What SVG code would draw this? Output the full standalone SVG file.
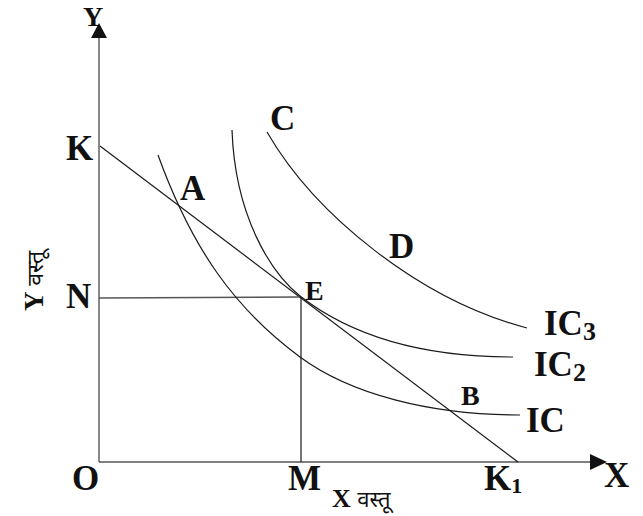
<svg xmlns="http://www.w3.org/2000/svg" width="643" height="516" viewBox="0 0 643 516">
<style>
.ax{stroke:#555;stroke-width:1.4;fill:none}
.ln{stroke:#1a1a1a;stroke-width:1.2;fill:none}
.t{font-family:"Liberation Serif","Times New Roman",serif;font-weight:bold;fill:#111}
.big{font-size:35px}
.mid{font-size:28px}
.dev{font-family:"Noto Sans Devanagari","Lohit Devanagari","Noto Sans","Liberation Serif",sans-serif;font-weight:normal;fill:#111}
</style>
<rect width="643" height="516" fill="#fff"/>
<g id="axes">
<line class="ax" x1="99" y1="462" x2="99" y2="37"/>
<line class="ax" x1="99" y1="462" x2="591" y2="462"/>
<polygon points="99,23 91,38 107,38" fill="#111"/>
<polygon points="607,462 590,454 590,470" fill="#111"/>
</g>
<g id="connectors">
<line class="ln" x1="100" y1="146" x2="518" y2="462"/>
<line class="ax" x1="99" y1="298" x2="301" y2="297"/>
<line class="ln" x1="301" y1="297" x2="301" y2="462"/>
<path id="ic1" class="ln" d="M158,155 C192,249 235,309 300,357 C350,394 430,415 520,415"/>
<path id="ic2" class="ln" d="M232,130 C235,215 270,272 300,296 C350,335 420,357 513,357"/>
<path id="ic3" class="ln" d="M267,132 C315,215 420,300 527,328"/>
</g>
<g id="labels">
<text class="t" x="83" y="26" font-size="28">Y</text>
<text class="t big" x="66" y="160">K</text>
<text class="t big" x="66" y="308">N</text>
<text class="t big" x="72" y="490">O</text>
<text class="t big" x="288" y="490">M</text>
<text class="t big" x="484" y="490">K<tspan font-size="22" dy="3">1</tspan></text>
<text class="t big" x="604" y="487">X</text>
<text class="t big" x="180" y="200">A</text>
<text class="t big" x="270" y="130">C</text>
<text class="t big" x="389" y="258">D</text>
<text class="t mid" x="305" y="300">E</text>
<text class="t mid" x="461" y="405">B</text>
<text class="t big" x="544" y="335">IC<tspan font-size="26" dy="5">3</tspan></text>
<text class="t big" x="534" y="376">IC<tspan font-size="26" dy="5">2</tspan></text>
<text class="t big" x="526" y="432">IC</text>
<text class="t" x="332" y="507" font-size="26">X <tspan class="dev" font-size="22">वस्तू</tspan></text>
<text class="t" font-size="27" transform="translate(43,311) rotate(-90)">Y <tspan class="dev" font-size="23">वस्तू</tspan></text>
</g>
</svg>
